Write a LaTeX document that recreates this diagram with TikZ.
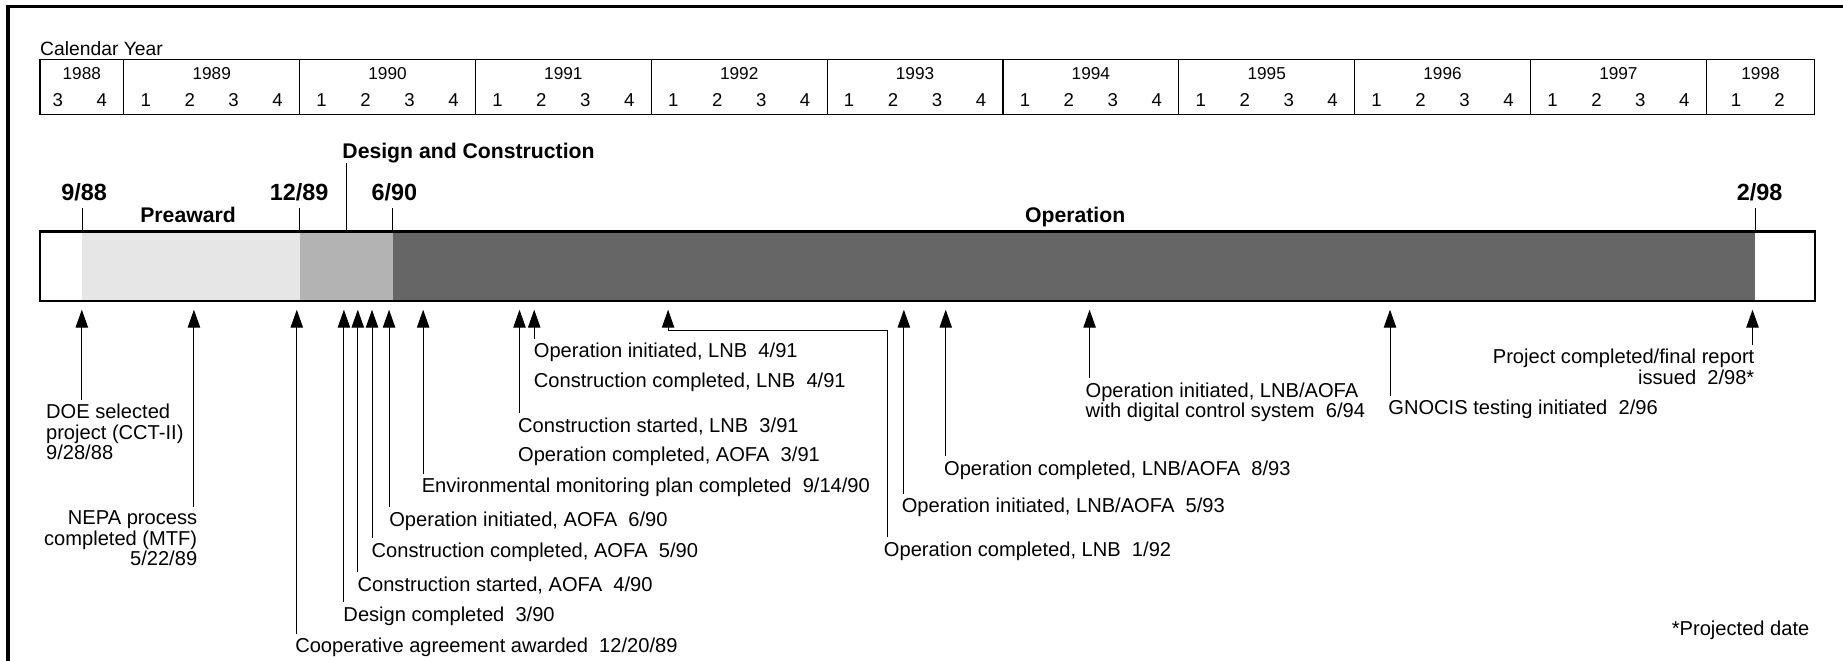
\documentclass[tikz,border=0pt]{standalone}
\usepackage{fontspec}
\setmainfont{Liberation Sans}
\usetikzlibrary{arrows.meta, positioning}

\definecolor{preawardgray}{HTML}{E6E6E6}
\definecolor{designgray}{HTML}{B3B3B3}
\definecolor{operationgray}{HTML}{666666}

\newcommand{\evfont}{\fontsize{14.6}{14.8}\selectfont}

\tikzset{
	eventnode/.style={
			inner sep=0pt,
			anchor=north west,
			align=left,
			font=\evfont
		},
	eventnoderight/.style={
			eventnode,
			anchor=north east,
			align=right
		},
	eventarrow/.style={
			line width=0.7pt,
			shorten <=3pt,
			-{Triangle[length=13pt, width=9pt]}
		},
	datenode/.style={
			inner sep=0pt,
			anchor=base,
			font=\bfseries\fontsize{17}{20}\selectfont
		},
	phasenode/.style={
			inner sep=0pt,
			anchor=base,
			font=\bfseries\fontsize{15.4}{18}\selectfont
		},
	yearnode/.style={
			inner sep=0pt,
			anchor=base,
			font=\fontsize{12.5}{14}\selectfont
		},
	quarternode/.style={
			inner sep=0pt,
			anchor=base,
			font=\fontsize{13.5}{15}\selectfont
		},
	tickline/.style={
			line width=0.7pt
		}
}

\begin{document}
\begin{tikzpicture}[x=0.03cm, y=-0.03cm]
\useasboundingbox (0,0) rectangle (1568,562);
\draw[line width=2.4pt] (6.7,562) -- (6.7,5.7) -- (1568,5.7);

% calendar
\node[anchor=base west, inner sep=0pt, font=\fontsize{14}{16}\selectfont] (calyear) at (34,47.5) {Calendar Year};
\draw[line width=0.85pt] (34,50.5) rectangle (1544,97.5);
\node[yearnode] (y1988) at (69.6,67.5) {1988};
\node[quarternode] (q1988-3) at (49.2,90.2) {3};
\node[quarternode] (q1988-4) at (86.6,90.2) {4};
\foreach \yr [count=\k from 0] in {1989,...,1997} {
    \pgfmathsetmacro{\yx}{105.3+149.6*\k}
    \draw[line width=0.85pt] (\yx,50.5) -- (\yx,97.5);
    \node[yearnode] (y\yr) at (\yx+74.8,67.5) {\yr};
    \foreach \qq in {1,...,4}
        \node[quarternode] (q\yr-\qq) at (\yx+18.7+37.4*\qq-37.4,90.2) {\qq};
}
\draw[line width=0.85pt] (1451.7,50.5) -- (1451.7,97.5);
\node[yearnode] (y1998) at (1497.8,67.5) {1998};
\node[quarternode] (q1998-1) at (1477,90.2) {1};
\node[quarternode] (q1998-2) at (1514,90.2) {2};

% phases
\fill[preawardgray] (70,197) rectangle (255,256);
\fill[designgray] (255,197) rectangle (334,256);
\fill[operationgray] (334,197) rectangle (1493.5,256);
\draw[line width=1.7pt] (34,197) rectangle (1544,256);

\coordinate (b988) at (70,197);
\coordinate (b1289) at (255,197);
\coordinate (b690) at (334,197);
\coordinate (b298) at (1493.5,197);
\coordinate (bdc) at (295,197);

\node[datenode] (d988) at (71.5,170.2) {9/88};
\node[datenode] (d1289) at (254.5,170.2) {12/89};
\node[datenode] (d690) at (335.5,170.2) {6/90};
\node[datenode] (d298) at (1497,170.2) {2/98};
\node[phasenode] (pdc) at (398.6,134.5) {Design and Construction};
\node[phasenode] (ppre) at (160,189.5) {Preaward};
\node[phasenode] (pop) at (914.7,189.5) {Operation};

\foreach \dd in {988,1289,690,298}
    \draw[tickline, shorten >=5.5pt] (b\dd) -- (b\dd |- d\dd.south);
\draw[tickline] (bdc) -- (bdc |- pdc.south);

% events
\foreach \ev/\ex in {DOE/69.6, NEPA/165, Coop/252.5, Des/292.6, ConsA/304.4, ConsAc/316.5,
    OpA/331, Env/360, ConsL/442, OpL/454.5, OpLc/568.4, OpLA/769, OpLAc/804.6,
    OpDig/927, GNOCIS/1182.6, Final/1491}
    \coordinate (t\ev) at (\ex,263.5);

\node[eventnode] (lDOE) at (39,343.8) {DOE selected\\project (CCT-II)\\9/28/88};
\node[eventnoderight] (lNEPA) at (168,434.5) {NEPA process\\completed (MTF)\\5/22/89};
\node[eventnode] (lCoop) at (251,542.5) {Cooperative agreement awarded~~12/20/89};
\node[eventnode] (lDes) at (292,515.8) {Design completed~~3/90};
\node[eventnode] (lConsA) at (304,490.3) {Construction started, AOFA~~4/90};
\node[eventnode] (lConsAc) at (316,461.4) {Construction completed, AOFA~~5/90};
\node[eventnode] (lOpA) at (331,435) {Operation initiated, AOFA~~6/90};
\node[eventnode] (lEnv) at (358.6,406.6) {Environmental monitoring plan completed~~9/14/90};
\node[eventnode] (lConsL) at (440.6,355) {Construction started, LNB~~3/91};
\node[eventnode] (lOpAc) at (440.6,379.7) {Operation completed, AOFA~~3/91};
\node[eventnode] (lOpL) at (454,291.8) {Operation initiated, LNB~~4/91};
\node[eventnode] (lConsLc) at (454,316.8) {Construction completed, LNB~~4/91};
\node[eventnode] (lOpLc) at (751.8,460.5) {Operation completed, LNB~~1/92};
\node[eventnode] (lOpLA) at (767,423.7) {Operation initiated, LNB/AOFA~~5/93};
\node[eventnode] (lOpLAc) at (803,391.6) {Operation completed, LNB/AOFA~~8/93};
\node[eventnode] (lOpDig) at (923.4,325.5) {Operation initiated, LNB/AOFA\\with digital control system~~6/94};
\node[eventnode] (lGNOCIS) at (1181,340) {GNOCIS testing initiated~~2/96};
\node[eventnoderight] (lFinal) at (1492.8,296.8) {Project completed/final report\\issued~~2/98*};
\node[eventnoderight] (lProj) at (1539.6,528) {*Projected date};

\foreach \ev in {DOE, NEPA, Coop, Des, ConsA, ConsAc, OpA, Env, ConsL, OpL, OpLA, OpLAc, OpDig, GNOCIS, Final}
    \draw[eventarrow] (t\ev |- l\ev.north) -- (t\ev);

\coordinate (kOpLc) at (755,281);
\draw[eventarrow] (kOpLc |- lOpLc.north) |- (tOpLc |- kOpLc) -- (tOpLc);

\end{tikzpicture}
\end{document}
